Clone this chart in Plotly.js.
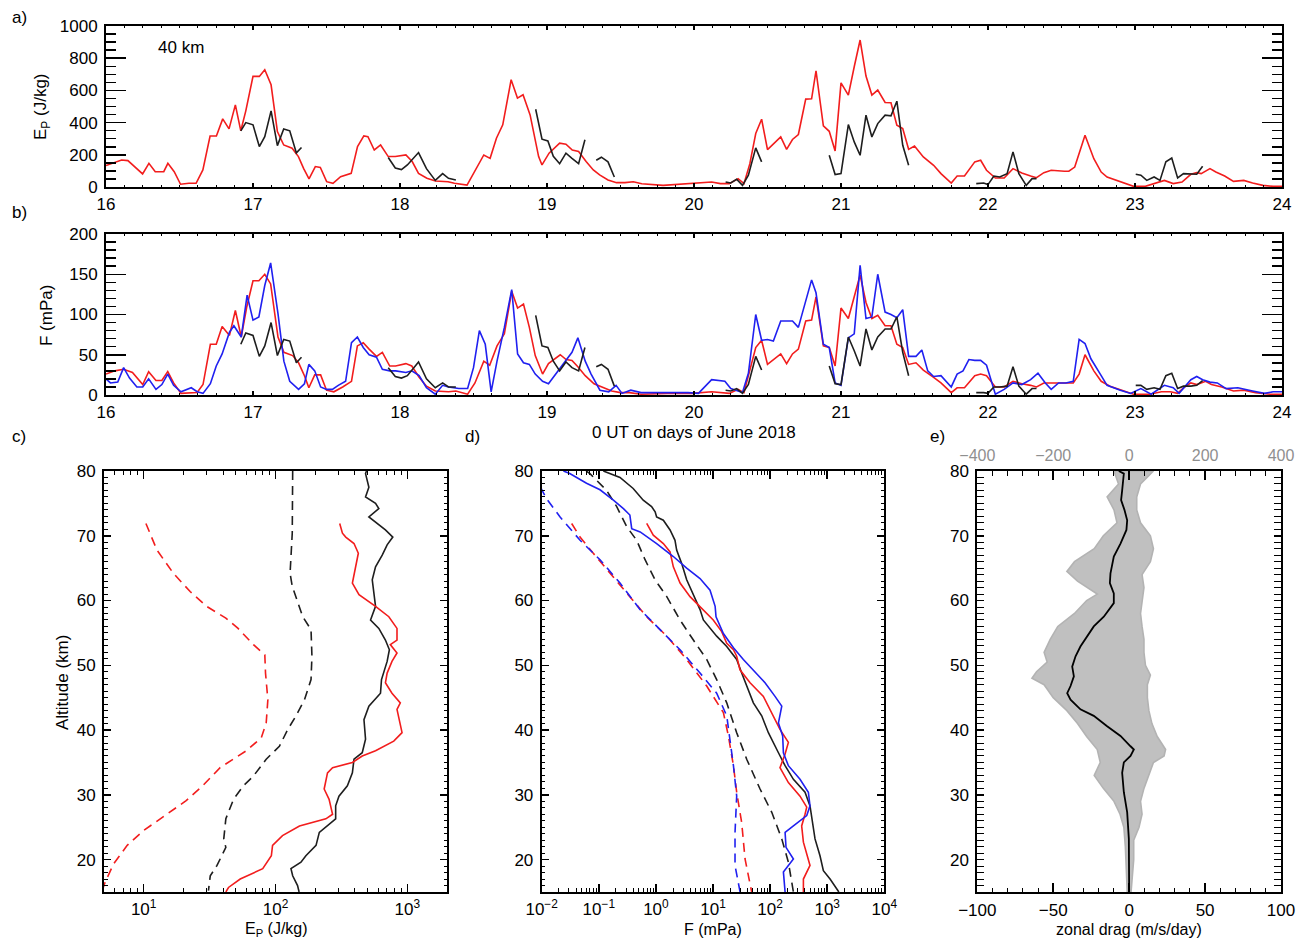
<!DOCTYPE html>
<html><head><meta charset="utf-8">
<script src="https://cdn.plot.ly/plotly-3.0.1.min.js"></script>
<style>html,body{margin:0;padding:0;background:#fff}#chart{width:1309px;height:940px}</style>
</head><body><div id="chart"></div>
<script>
// ---------- panel a: Ep at 40 km ----------
const aRedT = [16.00,16.106,16.149,16.249,16.292,16.335,16.393,16.421,16.464,16.507,
16.564,16.613,16.659,16.708,16.751,16.794,16.837,16.880,16.917,16.951,
17.000,17.043,17.080,17.123,17.166,17.209,17.266,17.309,17.344,17.381,
17.424,17.458,17.501,17.544,17.596,17.668,17.711,17.754,17.782,17.825,
17.868,17.920,17.968,18.040,18.083,18.126,18.183,18.241,18.327,18.370,
18.456,18.513,18.570,18.613,18.656,18.699,18.756,18.799,18.837,18.885,
18.943,18.966,19.014,19.086,19.129,19.172,19.215,19.266,19.315,19.358,
19.415,19.473,19.530,19.587,19.645,19.79,19.96,20.12,20.18,20.24,
20.30,20.34,20.38,20.42,20.46,20.50,20.59,20.63,20.67,20.71,
20.76,20.80,20.83,20.88,20.92,20.96,21.00,21.05,21.09,21.13,
21.17,21.21,21.25,21.30,21.34,21.38,21.42,21.46,21.50,21.56,
21.63,21.68,21.75,21.79,21.84,21.91,21.95,21.99,22.05,22.11,
22.17,22.23,22.29,22.33,22.38,22.43,22.52,22.55,22.59,22.66,
22.72,22.77,22.81,22.90,22.99,23.07,23.13,23.20,23.26,23.32,
23.38,23.42,23.45,23.51,23.55,23.61,23.67,23.74,23.80,23.87,
23.94,24.00];
const aRedV = [133,168,164,81,147,95,95,147,95,17,
23,23,106,317,317,423,361,510,349,473,
687,687,728,635,344,261,241,189,116,50,
127,122,33,23,64,85,251,317,313,230,
261,189,189,199,158,85,54,37,33,23,
12,106,199,178,303,386,666,552,573,448,
189,137,210,272,266,230,220,158,106,75,
44,27,27,33,20,10,21,31,21,21,
52,21,145,332,421,232,311,234,295,326,
546,548,722,380,346,224,647,571,747,913,
689,571,602,525,523,384,363,234,255,187,
135,83,25,68,68,156,166,104,56,56,
114,87,68,58,89,104,98,98,124,322,
176,93,62,35,4,4,21,41,21,31,
79,89,83,114,93,68,35,41,25,10,
4,4];
// black (intermittent) series, shared times for panels a and b
const blkT = [16.917,16.951,17.00,17.043,17.08,17.123,17.166,17.209,17.25,17.295,17.33,null,
17.92,17.968,18.01,18.05,18.126,18.18,18.24,18.29,18.33,18.38,null,
18.923,18.966,19.006,19.043,19.086,19.129,19.17,19.215,19.258,null,
19.335,19.37,19.415,19.458,null,
20.215,20.25,20.29,20.33,20.37,20.42,20.46,null,
20.92,20.96,21.00,21.05,21.09,21.13,21.17,21.21,21.25,21.30,21.34,21.38,21.42,21.46,null,
21.92,21.97,22.00,22.04,22.08,22.13,22.17,22.21,22.26,22.30,22.33,null,
23.005,23.04,23.08,23.13,23.17,23.21,23.25,23.29,23.33,23.38,23.42,23.46];
const aBlkV = [349,400,386,251,313,473,257,361,349,212,245,null,
183,118,108,137,214,114,41,83,54,44,null,
483,297,286,191,145,210,178,145,293,null,
166,185,156,62,null,
31,25,48,10,73,243,156,null,
197,77,83,388,280,197,446,311,394,446,442,533,259,135,null,
21,25,15,68,62,83,218,83,10,52,52,null,
79,73,41,62,41,156,180,56,83,83,79,129];

// ---------- panel b: F at 40 km ----------
const bRedT = [16.00,16.06,16.12,16.18,16.25,16.29,16.34,16.38,16.42,16.46,
16.51,16.58,16.62,16.66,16.71,16.75,16.79,16.84,16.88,16.92,
16.957,17.00,17.04,17.08,17.12,17.17,17.21,17.27,17.31,17.35,
17.38,17.42,17.46,17.50,17.55,17.61,17.67,17.71,17.75,17.79,
17.84,17.88,17.93,17.97,18.04,18.08,18.13,18.18,18.24,18.33,
18.38,18.46,18.51,18.57,18.61,18.66,18.71,18.76,18.80,18.84,
18.88,18.92,18.97,19.01,19.09,19.13,19.17,19.21,19.26,19.32,
19.38,19.44,19.50,19.56,19.64,19.82,19.99,20.12,20.24,20.30,
20.34,20.38,20.42,20.46,20.50,20.59,20.63,20.67,20.71,20.76,
20.80,20.83,20.88,20.92,20.96,21.00,21.05,21.09,21.13,21.17,
21.21,21.25,21.30,21.34,21.38,21.42,21.46,21.51,21.56,21.63,
21.68,21.75,21.79,21.84,21.91,21.95,21.99,22.05,22.11,22.17,
22.23,22.29,22.33,22.38,22.43,22.52,22.58,22.62,22.66,22.72,
22.77,22.83,22.90,22.99,23.10,23.18,23.24,23.29,23.33,23.38,
23.42,23.48,23.52,23.59,23.67,23.74,23.82,23.92,24.00];
const bRedV = [26,30,32,28,13,29,18,18,29,15,
2,3,3,13,63,63,85,74,105,72,
109,142,142,150,138,72,53,49,40,24,
9,25,25,6,4,10,17,61,65,57,
48,53,36,36,39,36,22,11,5,4,
5,1,15,42,37,61,76,129,108,113,
84,49,26,39,50,44,43,35,24,14,
9,5,3,3,1,2,2,4,2,7,
3,30,59,68,38,51,39,51,57,92,
93,122,61,59,36,108,95,122,149,115,
95,99,86,86,63,59,38,40,31,22,
15,3,9,9,24,26,24,10,10,17,
14,12,10,15,15,15,15,26,50,30,
17,11,7,1,1,4,4,2,9,15,
13,17,13,10,5,6,3,1,1];
const bBluT = [16.00,16.03,16.08,16.12,16.16,16.21,16.25,16.29,16.34,16.38,
16.42,16.46,16.51,16.58,16.62,16.66,16.71,16.75,16.79,16.84,
16.87,16.92,16.96,17.00,17.04,17.08,17.12,17.17,17.21,17.25,
17.31,17.35,17.38,17.42,17.46,17.50,17.54,17.58,17.63,17.67,
17.71,17.75,17.79,17.84,17.88,17.93,17.97,18.04,18.08,18.13,
18.18,18.24,18.29,18.33,18.40,18.46,18.50,18.54,18.58,18.62,
18.66,18.71,18.76,18.80,18.84,18.88,18.92,18.97,19.01,19.09,
19.13,19.17,19.21,19.26,19.30,19.36,19.42,19.47,19.51,19.57,
19.64,19.73,19.82,19.96,20.03,20.12,20.21,20.25,20.33,20.37,
20.42,20.46,20.50,20.54,20.59,20.63,20.67,20.71,20.76,20.80,
20.83,20.88,20.92,20.96,21.00,21.05,21.09,21.13,21.17,21.21,
21.25,21.30,21.34,21.38,21.42,21.46,21.51,21.55,21.59,21.63,
21.68,21.75,21.79,21.83,21.87,21.91,21.95,21.99,22.05,22.11,
22.17,22.23,22.29,22.34,22.39,22.43,22.48,22.53,22.58,22.62,
22.66,22.70,22.77,22.81,22.90,22.97,23.04,23.11,23.20,23.26,
23.30,23.38,23.42,23.46,23.51,23.56,23.62,23.70,23.80,23.88,
23.94,24.00];
const bBluV = [20,15,16,34,21,10,10,20,7,13,
26,12,4,9,4,2,14,36,51,78,
86,72,124,93,97,136,164,101,42,17,
7,14,38,30,10,7,7,12,17,65,
72,59,50,47,32,30,30,28,30,24,
9,1,12,10,8,8,34,80,63,4,
42,84,131,51,40,38,26,17,14,34,
44,53,71,42,26,6,4,12,2,6,
3,3,3,3,2,19,17,8,3,27,
100,68,69,67,92,92,92,84,115,143,
127,63,59,15,12,71,76,161,95,97,
150,103,100,96,106,48,48,56,30,23,
24,10,26,30,44,43,43,37,1,7,
15,13,19,27,15,7,15,15,17,69,
64,45,24,12,6,2,8,1,12,9,
2,19,23,19,16,15,8,9,5,2,
4,4];
const bBlkV = [63,77,74,48,61,90,49,69,67,40,47,null,
34,23,21,24,41,20,9,15,10,10,null,
99,61,59,42,30,41,34,30,59,null,
35,38,32,11,null,
6,5,8,2,13,48,31,null,
36,14,13,72,55,36,82,56,72,82,82,97,53,24,null,
3,3,2,10,10,11,35,11,1,8,8,null,
12,12,7,9,7,24,27,8,11,11,12,18];

// ---------- panel c: Ep profiles ----------
const cRedDashAlt = [71.9,67.8,64.2,61.4,59.1,57.3,55.7,53.2,51.6,48.8,44.7,41.1,38.8,36.8,34.2,31.4,29.1,26.3,24.5,22.2,19.3,16.5,15];
const cRedDashVal = [10.4,12.6,16.8,22.5,30,42,52,68,83,84,87.5,85,78,60,38,28,21,13.4,10,7.5,5.9,5.1,4.8];
const cBlkDashAlt = [80,75.0,70.4,64.2,62.2,57.5,55.5,51.4,47.8,44.7,42.2,40.1,37.5,35.5,32.9,31.4,29.3,26.3,23.2,21.9,20.6,19.1,17.5,15.2];
const cBlkDashVal = [135,135,134,129,134,161,186,189,186,166,143,124,107,85,68,57,48,42,40.5,42,39,36,32,31];
const cRedAlt = [71.9,70.4,69.8,68.8,67.3,65.2,62.7,60.9,59.1,57.5,55.7,53.9,53.2,51.9,50.6,48.8,47.3,45.7,44.2,43.2,41.1,39.6,38.3,36.8,36.0,35.0,34.2,33.4,30.9,29.3,27.0,26.3,25.2,23.7,22.2,20.6,18.6,17.0,15.7,15.0];
const cRedVal = [307,322,341,394,425,406,383,430,574,724,835,835,743,835,765,703,682,765,885,835,885,912,789,574,455,383,271,248,234,255,271,241,152,113,95,93,80,54,44,42];
const cBlkAlt = [80,79.6,77.5,76.0,75.0,74.2,72.9,71.9,70.9,69.8,68.6,67.0,65.2,63.2,61.1,59.1,57.0,55.7,53.9,52.4,50.6,47.8,45.7,43.7,41.6,38.6,36.5,35.5,33.4,31.4,29.8,28.3,26.3,24.2,22.2,20.6,19.6,18.6,17.5,16.0,15.0];
const cBlkVal = [490,482,511,482,574,608,511,590,682,776,703,645,574,542,558,574,526,608,682,731,703,637,626,511,469,482,455,394,383,351,303,286,286,215,203,170,156,131,135,147,151];

// ---------- panel d: F profiles ----------
const dBlkAlt = [80,79,77.3,75.5,74.5,73.7,72.9,72.4,70.9,69.3,67.8,65.7,63.2,60.9,58.6,57.0,54.5,52.9,50.9,48.8,46.8,44.2,42.2,39.6,36.5,34.5,32.4,30.4,28.3,25.2,23.2,20.6,18.3,17.0,15.5,15.0];
const dBlkVal = [0.12,0.235,0.40,0.60,0.84,0.97,1.03,1.35,1.77,2.16,2.31,2.83,3.46,4.53,5.93,6.78,11.6,17.4,26.0,31.8,38.9,50.9,71.3,93.3,140,183,256,409,500,573,612,748,857,1122,1466,1600];
const dBluAlt = [80,79.6,78.1,77.1,75.5,74.2,73.2,71.1,70.6,68.8,66.8,65.0,63.4,61.6,59.1,57.5,54.9,52.7,50.9,49.3,47.3,45.2,43.7,41.1,39.1,36.5,34.5,32.4,30.4,28.3,26.8,25.2,24.2,21.9,20.1,19.1,18.1,15.0];
const dBluVal = [0.024,0.031,0.061,0.105,0.18,0.27,0.35,0.377,0.53,1.03,2.02,3.46,5.93,8.87,10.9,11.3,15.2,22.8,34.0,50.9,81.5,122,160,140,166,171,209,334,468,500,438,256,183,190,256,209,171,183];
const dRedAlt = [71.9,70.1,68.8,67.5,65.2,62.7,60.6,59.1,57.0,55.2,53.4,52.4,51.4,49.3,47.3,45.2,42.2,40.1,38.1,36.3,34.2,31.9,29.8,28.1,27.0,25.2,22.7,19.1,17.0,15.0];
const dRedVal = [0.69,0.90,1.35,1.77,2.02,2.65,3.96,5.93,10.1,14.2,17.4,22.8,26.0,29.7,44.6,76.2,114,149,209,183,149,209,334,438,409,357,383,500,383,383];
const dBlkDashAlt = [80,79.6,77.0,74.5,71.4,69.3,66.3,63.2,60.6,57.0,53.9,50.9,47.8,44.2,39.6,35.5,30.9,27.3,23.2,19.6,15.0];
const dBlkDashVal = [0.06,0.070,0.137,0.206,0.308,0.461,0.646,0.966,1.55,2.65,4.53,7.76,11.6,17.4,26.0,38.9,66.7,107,160,209,256];
const dRedDashAlt = [71.9,69.8,67.3,64.2,61.1,57.5,54.5,50.9,46.8,42.7,39.1,34.5,30.4,25.7,20.1,15.0];
const dRedDashVal = [0.0335,0.0469,0.080,0.157,0.308,0.69,1.55,3.46,7.76,15.2,18.6,22.8,26.0,31.8,36.4,47.6];
const dBluDashAlt = [77.5,75.7,72.9,69.3,66.3,62.7,58.6,55.5,52.4,48.8,45.7,42.2,38.6,34.5,29.8,24.2,19.1,15.0];
const dBluDashVal = [0.0095,0.0122,0.021,0.047,0.105,0.235,0.53,1.18,2.65,5.93,11.6,17.4,19.9,22.8,26.0,24.3,24.3,29.8];

// ---------- panel e: zonal drag ----------
// grey envelope of individual profiles (top-axis units, -400..400)
const eLeftAlt = [15,18,22,25,27,29,31,33,35,37,39,41,43,45,47,48,49,50.5,52,54,56,58,60,61,63,64.5,66,68,70,72,74,76,78,80];
const eLeftVal = [-5,-7,-10,-14,-24,-40,-68,-92,-76,-84,-112,-136,-164,-200,-224,-256,-244,-216,-224,-208,-188,-144,-112,-84,-136,-164,-144,-92,-68,-32,-40,-58,-28,-40];
const eRightAlt = [15,17,20,23,25,27,29,31,33,35,36,37,39,41,43,45,47,48.5,50,52,54,56,58,60,62,64,66,68,70,72,74,76,78,80];
const eRightVal = [5,8,12,12,26,34,30,39,52,64,92,96,74,60,52,48,48,56,43,39,39,34,30,34,39,34,56,64,56,30,20,20,30,64];
// mean profile (bottom-axis units, m/s/day)
const eMeanAlt = [80,79.6,77.0,75.5,74.0,72.4,70.9,68.8,66.8,64.2,62.7,61.1,59.6,57.5,56.0,54.5,52.9,51.4,49.8,48.3,46.8,45.7,44.7,43.2,42.2,40.6,39.1,37.5,37.0,36.0,35.0,33.4,30.4,27.3,23.2,15.0];
const eMeanVal = [-6.8,-3.5,-4.6,-5.3,-3.1,-1.3,-1.8,-5.7,-10.1,-12.3,-12.7,-10.1,-10.1,-16.7,-23.3,-27.7,-32.1,-35.3,-37.5,-36.4,-38.6,-40.8,-38.6,-32.1,-23.3,-14.5,-5.7,0.9,3.1,0.9,-3.5,-4.6,-3.5,-1.3,-0.2,0];
const eTopRange = [-400, 400];
const eBotRange = [-100, 100];

// tick labels
const cTickVals = [10,100,1000];
const cTickText = ['10<sup>1</sup>','10<sup>2</sup>','10<sup>3</sup>'];
const dTickVals = [0.01,0.1,1,10,100,1000,10000];
const dTickText = ['10<sup>\u22122</sup>','10<sup>\u22121</sup>','10<sup>0</sup>','10<sup>1</sup>','10<sup>2</sup>','10<sup>3</sup>','10<sup>4</sup>'];

// ---------- layout helpers ----------
const W = 1309, H = 940;
const px = x => x / W, py = y => 1 - y / H;
const F = '"Liberation Sans", Arial, Helvetica, sans-serif';
const RED = '#f21d1d', BLUE = '#2020f0', BLK = '#1e1e1e', GREY = '#c0c0c0';
const LW = 1.6;
const topToBot = eBotRange[1] / eTopRange[1];

function logMinors(lo, hi) {
  const out = [];
  for (let e = lo; e <= hi; e++) for (let m = 2; m <= 9; m++) out.push(m * Math.pow(10, e));
  return out;
}
function axis(o) {
  return Object.assign({
    showline: true, linecolor: '#000', linewidth: 2, mirror: 'allticks',
    ticks: 'inside', tickcolor: '#000', tickwidth: 1.5, showgrid: false, zeroline: false,
    fixedrange: true, tickfont: {family: F, size: 17, color: '#000'}
  }, o);
}
function line(x, y, color, xa, ya, dash) {
  return {type: 'scatter', mode: 'lines', x: x, y: y, xaxis: xa, yaxis: ya,
    line: {color: color, width: LW, dash: dash || 'solid'}, connectgaps: false, hoverinfo: 'skip'};
}
const DASH = '9px,6px';

const envX = eLeftVal.concat(eRightVal.slice().reverse()).map(v => v * topToBot);
const envY = eLeftAlt.concat(eRightAlt.slice().reverse());

const traces = [
  line(aRedT, aRedV, RED, 'x', 'y'),
  line(blkT, aBlkV, BLK, 'x', 'y'),
  line(bRedT, bRedV, RED, 'x2', 'y2'),
  line(bBluT, bBluV, BLUE, 'x2', 'y2'),
  line(blkT, bBlkV, BLK, 'x2', 'y2'),
  line(cRedDashVal, cRedDashAlt, RED, 'x3', 'y3', DASH),
  line(cBlkDashVal, cBlkDashAlt, BLK, 'x3', 'y3', DASH),
  line(cBlkVal, cBlkAlt, BLK, 'x3', 'y3'),
  line(cRedVal, cRedAlt, RED, 'x3', 'y3'),
  line(dBlkDashVal, dBlkDashAlt, BLK, 'x4', 'y4', DASH),
  line(dRedDashVal, dRedDashAlt, RED, 'x4', 'y4', DASH),
  line(dBluDashVal, dBluDashAlt, BLUE, 'x4', 'y4', DASH),
  line(dBlkVal, dBlkAlt, BLK, 'x4', 'y4'),
  line(dRedVal, dRedAlt, RED, 'x4', 'y4'),
  line(dBluVal, dBluAlt, BLUE, 'x4', 'y4'),
  Object.assign(line(envX, envY, '#b3b3b3', 'x5', 'y5'), {fill: 'toself', fillcolor: GREY}),
  Object.assign(line(eMeanVal, eMeanAlt, '#000', 'x5', 'y5'), {line: {color: '#000', width: 1.8}}),
  // invisible carrier so the grey top axis (-400..400) is drawn
  {type: 'scatter', mode: 'lines', x: eTopRange, y: [15, 15], xaxis: 'x6', yaxis: 'y5',
   line: {width: 0, color: 'rgba(0,0,0,0)'}, hoverinfo: 'skip', opacity: 0}
];

const altY = (anchor) => axis({domain: [py(892), py(471)], anchor: anchor, range: [15, 80], tick0: 0, dtick: 10, ticklen: 7,
  minor: {ticks: 'inside', dtick: 1, tick0: 0, ticklen: 3.5, tickcolor: '#000', tickwidth: 1}, ticklabelstandoff: 3});

const layout = {
  width: W, height: H, margin: {l: 0, r: 0, t: 0, b: 0},
  paper_bgcolor: '#fff', plot_bgcolor: '#fff', showlegend: false,
  font: {family: F, size: 17, color: '#000'},
  xaxis: axis({domain: [px(106), px(1282)], anchor: 'y', range: [16, 24], dtick: 1, ticklen: 4,
    minor: {ticks: 'inside', dtick: 0.125, ticklen: 2, tickcolor: '#000', tickwidth: 1}, ticklabelstandoff: 1}),
  yaxis: axis({domain: [py(187), py(26)], anchor: 'x', range: [0, 1000], dtick: 200, ticklen: 20,
    minor: {ticks: 'inside', dtick: 50, ticklen: 10, tickcolor: '#000', tickwidth: 1.5}, ticklabelstandoff: 3}),
  xaxis2: axis({domain: [px(106), px(1282)], anchor: 'y2', range: [16, 24], dtick: 1, ticklen: 4,
    minor: {ticks: 'inside', dtick: 0.125, ticklen: 2, tickcolor: '#000', tickwidth: 1}, ticklabelstandoff: 1}),
  yaxis2: axis({domain: [py(395), py(234)], anchor: 'x2', range: [0, 200], dtick: 50, ticklen: 20,
    minor: {ticks: 'inside', dtick: 10, ticklen: 10, tickcolor: '#000', tickwidth: 1.5}, ticklabelstandoff: 3}),
  xaxis3: axis({domain: [px(104), px(447)], anchor: 'y3', type: 'log', range: [Math.log10(5), Math.log10(2000)],
    tickmode: 'array', tickvals: cTickVals, ticktext: cTickText, ticklen: 8,
    minor: {ticks: 'inside', tickmode: 'array', tickvals: logMinors(0, 3), ticklen: 4, tickcolor: '#000', tickwidth: 1}, ticklabelstandoff: 1}),
  yaxis3: altY('x3'),
  xaxis4: axis({domain: [px(541.7), px(884.3)], anchor: 'y4', type: 'log', range: [-2, 4],
    tickmode: 'array', tickvals: dTickVals, ticktext: dTickText, ticklen: 8,
    minor: {ticks: 'inside', tickmode: 'array', tickvals: logMinors(-2, 3), ticklen: 4, tickcolor: '#000', tickwidth: 1}, ticklabelstandoff: 1}),
  yaxis4: altY('x4'),
  xaxis5: axis({domain: [px(977.3), px(1281)], anchor: 'y5', range: eBotRange, dtick: 50, ticklen: 9,
    minor: {ticks: 'inside', dtick: 10, ticklen: 4.5, tickcolor: '#000', tickwidth: 1}, ticklabelstandoff: 2}),
  xaxis6: {domain: [px(977.3), px(1281)], overlaying: 'x5', anchor: 'y5', side: 'top', range: eTopRange, dtick: 200,
    showline: false, ticks: '', showgrid: false, zeroline: false, fixedrange: true,
    tickfont: {family: F, size: 16, color: '#8f8f8f'}, ticklabelstandoff: 6},
  yaxis5: altY('x5'),
  annotations: []
};

function ann(text, x, y, o) {
  layout.annotations.push(Object.assign({text: text, x: px(x), y: py(y), xref: 'paper', yref: 'paper',
    xanchor: 'center', yanchor: 'middle', showarrow: false, font: {family: F, size: 17, color: '#000'}}, o || {}));
}
const botFont = {family: F, size: 16, color: '#000'};
ann('a)', 19, 18);
ann('b)', 19, 212);
ann('c)', 19, 437);
ann('d)', 472, 437);
ann('e)', 937, 437);
ann('40 km', 181, 47);
ann('0 UT on days of June 2018', 694, 432);
ann('E<sub>P</sub> (J/kg)', 42, 107, {textangle: -90});
ann('F (mPa)', 47, 316, {textangle: -90});
ann('Altitude (km)', 62, 682, {textangle: -90});
ann('E<sub>P</sub> (J/kg)', 276, 929, {font: botFont});
ann('F (mPa)', 713, 929, {font: botFont});
ann('zonal drag (m/s/day)', 1129, 929, {font: botFont});

Plotly.newPlot('chart', traces, layout, {staticPlot: true});
</script>
</body></html>
